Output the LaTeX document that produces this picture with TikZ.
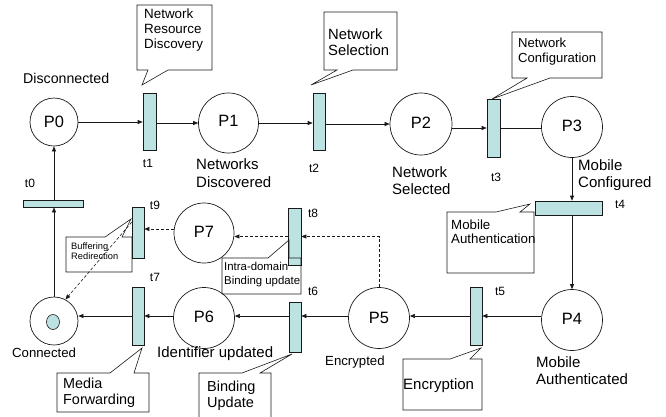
\documentclass[tikz,border=0pt]{standalone}
\usepackage{fontspec}
\setmainfont{Liberation Sans}
\usetikzlibrary{arrows.meta,calc,shapes.geometric}
\definecolor{tfill}{RGB}{188,226,226}
\definecolor{lcol}{RGB}{25,25,25}
\newcommand\fsz[2]{\fontsize{#1}{#2}\selectfont}
% callout with pointer on top edge: left top right bottom b1 b2 tipx tipy
\newcommand\mycallout[8]{%
  \draw[cbox] (#5,#2) -- (#7,#8) -- (#6,#2) -- (#3,#2) -- (#3,#4) -- (#1,#4) -- (#1,#2) -- cycle;}
% callout with pointer on bottom edge
\newcommand\mycalloutb[8]{%
  \draw[cbox] (#5,#4) -- (#7,#8) -- (#6,#4) -- (#3,#4) -- (#3,#2) -- (#1,#2) -- (#1,#4) -- cycle;}
\tikzset{
  place/.style={circle,draw=lcol,line width=0.7pt,minimum size=61pt,inner sep=0pt,font=\fsz{16.4}{18}},
  trans/.style={rectangle,draw=lcol,fill=tfill,line width=0.6pt,inner sep=0pt},
  arr/.style={draw=lcol,line width=0.6pt,-{Triangle[length=5pt,width=4pt]}},
  plain/.style={draw=lcol,line width=0.6pt},
  darr/.style={arr,dash pattern=on 3pt off 2pt},
  lbl/.style={inner sep=0pt,align=left,anchor=west},
  tlbl/.style={inner sep=0pt,font=\fsz{12}{14}},
  cbox/.style={draw=lcol,line width=0.6pt},
}
\begin{document}
\begin{tikzpicture}[x=1pt,y=-1pt]
\useasboundingbox (0,0) rectangle (666,416);
\clip (0,0) rectangle (666,416);
% places
\node[place,minimum size=48pt] (P0) at (54,122) {P0};
\node[place,minimum size=60pt] (P1) at (228.5,123) {\raisebox{5pt}{P1}};
\node[place,minimum size=62pt] (P2) at (421,124) {\raisebox{2pt}{P2}};
\node[place] (P3) at (572,127) {\raisebox{3pt}{P3}};
\node[place] (P4) at (572,320) {\raisebox{3pt}{P4}};
\node[place] (P5) at (379,318) {P5};
\node[place] (P6) at (204,318) {\raisebox{2pt}{P6}};
\node[place,minimum size=60pt] (P7) at (204,233) {\raisebox{2pt}{P7}};
\node[place,minimum size=48pt] (C) at (54,321) {};
\node[ellipse,draw=lcol,fill=tfill,line width=0.6pt,minimum width=13pt,minimum height=15pt,inner sep=0pt] (tok) at (53,322) {};
% transitions
\node[trans,minimum width=13pt,minimum height=57pt] (t1) at (149.5,121.5) {};
\node[trans,minimum width=12pt,minimum height=57pt] (t2) at (319,121.5) {};
\node[trans,minimum width=13pt,minimum height=58pt] (t3) at (493.5,128) {};
\node[trans,minimum width=67pt,minimum height=14pt] (t4) at (568.5,208) {};
\node[trans,minimum width=12pt,minimum height=58pt] (t5) at (476,316) {};
\node[trans,minimum width=12pt,minimum height=50pt] (t6) at (295,327) {};
\node[trans,minimum width=12pt,minimum height=58pt] (t7) at (138,316) {};
\node[trans,minimum width=60pt,minimum height=7pt] (t0) at (53,203.5) {};
\node[trans,minimum width=12pt,minimum height=51pt] (t9) at (138,232.5) {};
\node[trans,minimum width=13pt,minimum height=57pt] (t8) at (294.5,236.5) {};
% helper coordinates
\coordinate (y229) at (0,229);
\coordinate (t9a) at ($(t9.north west)!0.3!(t9.south west)$);
% arcs
\draw[arr] (P0.east) -- (P0.east -| t1.west);
\draw[arr] (t1.east |- P1.west) -- (P1.west);
\draw[arr] (P1.east) -- (P1.east -| t2.west);
\draw[arr] (t2.east |- P2.west) -- (P2.west);
\draw[arr] (P2.east |- t3.west) -- (t3.west);
\draw[plain] (t3.east) -- (P3.west |- t3.east);
\draw[arr] (P3.south) -- (P3.south |- t4.north);
\draw[arr] (t4.south -| P4.north) -- (P4.north);
\draw[arr] (P4.west |- t5.east) -- (t5.east);
\draw[arr] (t5.west) -- (t5.west -| P5.east);
\draw[arr] (P5.west |- t5.west) -- (t6.east |- t5.west);
\draw[arr] (t6.west |- t5.west) -- (P6.east |- t5.west);
\draw[arr] (P6.west |- t7.east) -- (t7.east);
\draw[arr] (t7.west) -- (C.east |- t7.west);
\draw[arr] (C.north) -- (C.north |- t0.south);
\draw[arr] (t0.north -| P0.south) -- (P0.south);
% dashed arcs
\draw[darr] (P5.north) |- (t8.east);
\draw[darr] (t8.west) -- (t8.west -| P7.east);
\draw[darr] (P7.west |- y229) -- (t9.east |- y229);
\draw[darr] (t9a) -- (C.62);
% transition labels
\node[tlbl] (lt0) at (30,183) {t0};
\node[tlbl] (lt1) at (148,163) {t1};
\node[tlbl] (lt2) at (314,168) {t2};
\node[tlbl] (lt3) at (496,177) {t3};
\node[tlbl] (lt4) at (620,204) {t4};
\node[tlbl] (lt5) at (500,291) {t5};
\node[tlbl] (lt6) at (313,291) {t6};
\node[tlbl] (lt7) at (155,277) {t7};
\node[tlbl] (lt8) at (313,213) {t8};
\node[tlbl] (lt9) at (155,205) {t9};
% place labels
\node[lbl,font=\fsz{14.2}{16}] (lP0) at (23,78) {Disconnected};
\node[lbl,font=\fsz{15}{18}] (lP1) at (196,173) {Networks\\Discovered};
\node[lbl,font=\fsz{15}{17}] (lP2) at (392,181) {Network\\Selected};
\node[lbl,font=\fsz{15}{17}] (lP3) at (578,175) {Mobile\\Configured};
\node[lbl,font=\fsz{15}{17}] (lP4) at (536,371) {Mobile\\Authenticated};
\node[lbl,font=\fsz{13.2}{14}] (lP5) at (325,362) {Encrypted};
\node[lbl,font=\fsz{15}{17}] (lP6) at (157,354) {Identifier updated};
\node[lbl,font=\fsz{13.2}{14}] (lC) at (12,353) {Connected};
% callouts
\mycalloutb{137}{5}{212}{70}{148}{168}{142}{85}
\node[lbl,font=\fsz{13.4}{15}] (cNRD) at (144,30.5) {Network\\Resource\\Discovery};
\mycalloutb{324}{12}{397}{70}{337}{353}{311}{85}
\node[lbl,font=\fsz{14.8}{16.5}] (cNS) at (328,42) {Network\\Selection};
\mycalloutb{512}{32}{602}{78}{527}{550}{492}{99}
\node[lbl,font=\fsz{13.1}{15}] (cNC) at (518,51.5) {Network\\Configuration};
\mycallout{447}{212}{534}{273}{496}{520}{530}{204}
\node[lbl,font=\fsz{13.3}{14}] (cMA) at (451,232) {Mobile\\Authentication};
\mycallout{403}{359}{482}{410}{450}{470}{481}{348}
\node[lbl,font=\fsz{15}{16}] (cEn) at (403,386) {Encryption};
\mycallout{199}{373}{271}{425}{242}{260}{292}{354}
\node[lbl,font=\fsz{14.5}{16}] (cBU) at (207,396) {Binding\\Update};
\mycallout{57}{373}{149}{412}{110}{134}{142}{348}
\node[lbl,font=\fsz{14.4}{15.5}] (cMF) at (63,393) {Media\\Forwarding};
\mycallout{66}{237}{132}{272}{105}{122}{131}{219}
\node[lbl,font=\fsz{9.3}{10}] (cBR) at (71,251) {Buffering\\Redirection};
\mycallout{222}{258}{301}{294}{268}{289}{289}{240}
\node[lbl,font=\fsz{11.4}{14}] (cID) at (224,275) {Intra-domain\\Binding update};
\end{tikzpicture}
\end{document}
